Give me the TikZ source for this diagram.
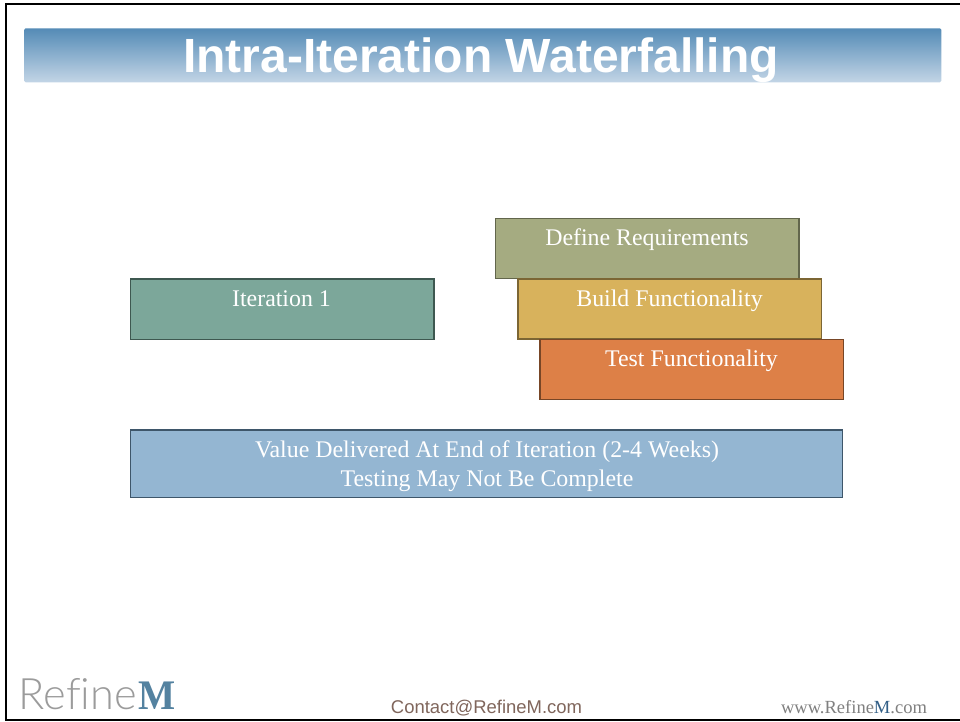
\documentclass[tikz,border=0pt]{standalone}
\usepackage{fontspec}
\setmainfont{Liberation Serif}
\newfontfamily\arialf{Liberation Sans}
\newfontfamily\logof[Ligatures=NoCommon]{Lato Light}
\usetikzlibrary{positioning}
\definecolor{bandtop}{RGB}{84,139,182}
\definecolor{bandbot}{RGB}{195,213,230}
\definecolor{teal}{RGB}{124,167,154}
\definecolor{tealb}{RGB}{62,88,80}
\definecolor{olive}{RGB}{165,171,129}
\definecolor{oliveb}{RGB}{98,102,76}
\definecolor{gold}{RGB}{216,178,92}
\definecolor{goldb}{RGB}{124,102,52}
\definecolor{orange2}{RGB}{221,128,71}
\definecolor{orangeb}{RGB}{120,70,38}
\definecolor{bluebox}{RGB}{148,182,210}
\definecolor{blueb}{RGB}{62,86,106}
\definecolor{contact}{RGB}{128,102,92}
\definecolor{webgray}{RGB}{128,128,128}
\definecolor{webblue}{RGB}{50,95,135}
\definecolor{logogray}{RGB}{155,155,155}
\definecolor{logoblue}{RGB}{84,130,160}
\tikzset{
  x=0.75pt,y=-0.75pt,
  box/.style={draw=#1,line width=1pt,inner sep=0pt,outer sep=0pt,anchor=north west},
  boxtext/.style={text=white,font=\fontsize{17.9pt}{21pt}\selectfont,anchor=base,inner sep=0pt,align=center}
}
\begin{document}
\begin{tikzpicture}
\useasboundingbox (0,0) rectangle (960,721);
\fill[white] (0,0) rectangle (960,721);
% slide frame
\node[draw=black,line width=1.7pt,inner sep=0pt,minimum width=958pt*0.75,minimum height=715.5pt*0.75,anchor=north west] (frame) at (4.5,3) {};
% title band
\node[rounded corners=1pt,top color=bandtop,bottom color=bandbot,minimum width=917pt*0.75,minimum height=54pt*0.75,inner sep=0pt,anchor=north west] (band) at (24,28) {};
\node[text=white,font=\arialf\bfseries\fontsize{36pt}{40pt}\selectfont,anchor=base,inner sep=0pt] (title) at (481,72.5) {Intra-Iteration Waterfalling};
% boxes
\node[box=tealb,fill=teal,minimum width=227.5pt,minimum height=45.5pt] (iter) at (130.5,279) {};
\node[boxtext] (iterT) at (281.5,306.7) {Iteration 1};
\node[box=oliveb,fill=olive,minimum width=227.5pt,minimum height=45pt] (def) at (495.5,218.5) {};
\node[boxtext] (defT) at (647,245.7) {Define Requirements};
\node[box=goldb,fill=gold,minimum width=227.5pt,minimum height=45pt] (build) at (518,279) {};
\node[boxtext] (buildT) at (669.5,306.7) {Build Functionality};
\node[box=orangeb,fill=orange2,minimum width=227.5pt,minimum height=45pt] (test) at (540,339.5) {};
\node[boxtext] (testT) at (691.5,366.7) {Test Functionality};
\node[box=blueb,fill=bluebox,minimum width=534pt,minimum height=50.5pt] (val) at (130.5,430) {};
\node[boxtext] (valT) at (487,457.3) {Value Delivered At End of Iteration (2-4 Weeks)};
\node[boxtext] (valU) at (487,486.3) {Testing May Not Be Complete};
% footer
\node[anchor=base west,inner sep=0pt,font=\logof\fontsize{32.5pt}{32pt}\selectfont,text=logogray] (logoA) at (18.5,709) {Refine};
\node[anchor=base west,inner sep=0pt,font=\bfseries\fontsize{29.5pt}{30pt}\selectfont,text=logoblue,xshift=1pt] (logoB) at (logoA.base east) {\scalebox{1}[1.07]{M}};
\node[anchor=base,inner sep=0pt,font=\arialf\fontsize{13.85pt}{16pt}\selectfont,text=contact] (mail) at (486.5,713) {Contact@RefineM.com};
\node[anchor=base,inner sep=0pt,font=\fontsize{13.9pt}{16pt}\selectfont,text=webgray] (web) at (854,713) {www.Refine\textcolor{webblue}{M}.com};
\end{tikzpicture}
\end{document}
